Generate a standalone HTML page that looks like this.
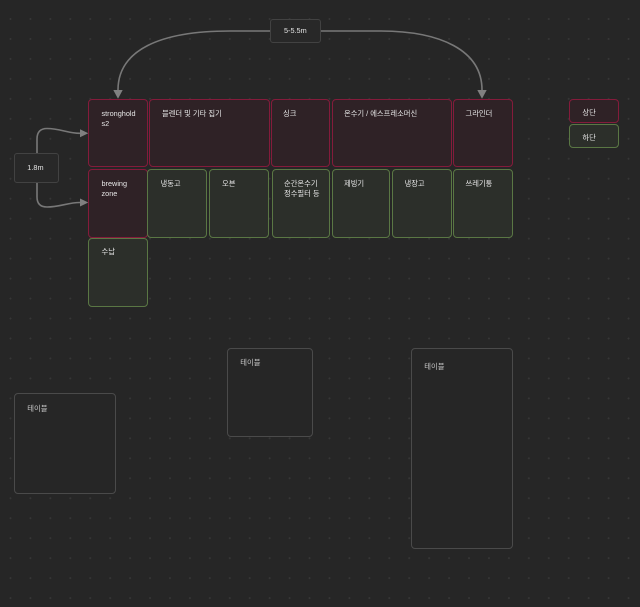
<!DOCTYPE html>
<html><head><meta charset="utf-8"><style>
html,body{margin:0;padding:0;}
body{width:640px;height:607px;position:relative;overflow:hidden;background:#262626;
background-image:radial-gradient(circle at center,#363636 0.8px,transparent 1.1px);
background-size:19.95px 19.97px;background-position:0.5px 9px;
font-family:"Liberation Sans","Noto Sans CJK KR",sans-serif;}
.b{position:absolute;box-sizing:border-box;border-radius:4px;border:1.6px solid;color:#e6e6e6;font-size:7.3px;line-height:10px;padding:9px 0 0 12px;}
.r{border-color:#841b3b;background:#2f2226;}
.g{border-color:#5a7744;background:#2c2f2a;}
.l{position:absolute;box-sizing:border-box;border-radius:3px;border:1px solid #424242;background:#282828;color:#e6e6e6;font-size:7.3px;line-height:10px;padding-left:12px;display:flex;align-items:center;}
.t{position:absolute;box-sizing:border-box;border-radius:4px;border:1px solid #4a4a4a;background:#262626;color:#c8c8c8;font-size:7.3px;line-height:10px;padding-left:12px;}
svg{position:absolute;left:0;top:0;}
</style></head><body>
<svg width="640" height="607" viewBox="0 0 640 607">
<g fill="none" stroke="#787878" stroke-width="1.6">
<path d="M270,31 L230,31 C160,31 118,50 118,90"/>
<path d="M321,31 L380,31 C440,31 482,50 482,90"/>
<path d="M37,153 L37,139 Q37,128.5 47,128.5 C60,128.5 68,133.3 80,133.3"/>
<path d="M37,183 L37,197 Q37,207 47,207 C60,207 68,202.5 80,202.5"/>
</g>
<g fill="#808080">
<polygon points="113.3,90 122.7,90 118,98.7"/>
<polygon points="477.3,90 486.7,90 482,98.7"/>
<polygon points="80,129.3 80,137.3 88.3,133.3"/>
<polygon points="80,198.5 80,206.5 88.3,202.5"/>
</g>
</svg>

<div class="b r" style="left:88px;top:98.5px;width:60px;height:68.5px;padding-left:12.5px;">stronghold<br>s2</div>
<div class="b r" style="left:149px;top:98.5px;width:120.5px;height:68.5px;">블렌더 및 기타 집기</div>
<div class="b r" style="left:270.5px;top:98.5px;width:59.5px;height:68.5px;padding-left:11.5px;">싱크</div>
<div class="b r" style="left:331.5px;top:98.5px;width:120px;height:68.5px;padding-left:11.5px;">온수기 / 에스프레소머신</div>
<div class="b r" style="left:453px;top:98.5px;width:60px;height:68.5px;padding-left:11.5px;">그라인더</div>

<div class="b r" style="left:88px;top:168.5px;width:60px;height:69px;padding-left:12.5px;">brewing<br>zone</div>
<div class="b g" style="left:147px;top:168.5px;width:60px;height:69px;padding-left:12.5px;">냉동고</div>
<div class="b g" style="left:209px;top:168.5px;width:60px;height:69px;">오븐</div>
<div class="b g" style="left:271.5px;top:168.5px;width:58.5px;height:69px;padding-left:11.5px;">순간온수기<br>정수필터 등</div>
<div class="b g" style="left:331.5px;top:168.5px;width:58.5px;height:69px;padding-left:11.5px;">제빙기</div>
<div class="b g" style="left:392px;top:168.5px;width:59.5px;height:69px;padding-left:11.5px;">냉장고</div>
<div class="b g" style="left:453px;top:168.5px;width:60px;height:69px;padding-left:11.5px;">쓰레기통</div>
<div class="b g" style="left:88px;top:238.3px;width:60px;height:69px;padding-left:12.5px;padding-top:8px;">수납</div>

<div class="b r" style="left:569px;top:98.5px;width:49.5px;height:24.2px;padding-top:8px;padding-left:12.4px;">상단</div>
<div class="b g" style="left:569px;top:124px;width:49.5px;height:23.5px;padding-top:7.5px;padding-left:12.4px;">하단</div>

<div class="l" style="left:14.3px;top:153.3px;width:45px;height:29.4px;">1.8m</div>
<div class="l" style="left:270.3px;top:19.3px;width:51px;height:24px;padding-left:12.7px;">5-5.5m</div>

<div class="t" style="left:14.3px;top:393.3px;width:102px;height:100.4px;padding-top:9.4px;">테이블</div>
<div class="t" style="left:227.3px;top:348.3px;width:86px;height:89px;padding-top:9px;">테이블</div>
<div class="t" style="left:411.3px;top:348.3px;width:101.4px;height:200.4px;padding-top:12.7px;">테이블</div>
</body></html>
